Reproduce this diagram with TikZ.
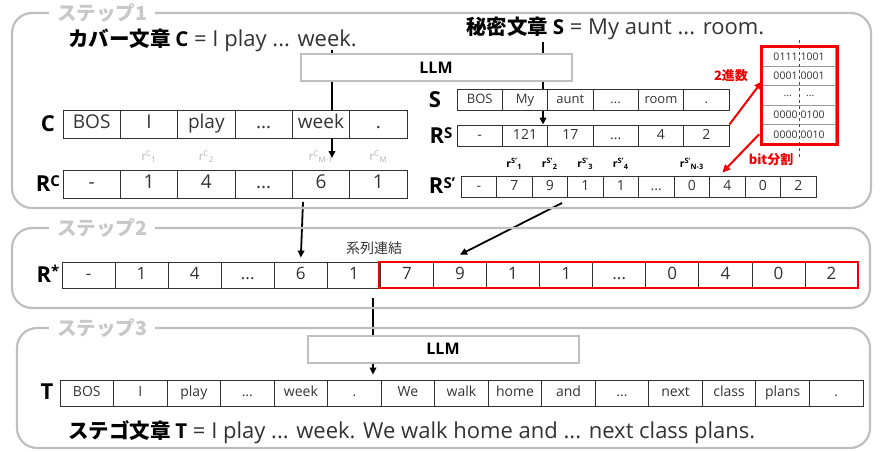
\documentclass[tikz,border=0pt]{standalone}
\usepackage{fontspec}
\setmainfont{Open Sans}
\newfontfamily\jp{Noto Sans CJK JP}
\usetikzlibrary{arrows.meta}
\definecolor{framegray}{RGB}{191,191,191}
\definecolor{lblgray}{RGB}{200,200,200}
\definecolor{redc}{RGB}{245,0,0}
\definecolor{txt}{RGB}{51,51,51}
\definecolor{cellline}{RGB}{50,50,50}
\definecolor{sublbl}{RGB}{175,175,175}
\newcommand\ddd{...}
\newcommand\fs[1]{\fontsize{#1}{#1}\selectfont}
\newcommand\tokrow[7]{%
  \foreach \t [count=\i] in {#7}{%
    \node[cell, minimum width=#4pt, minimum height=#5pt, font=\fs{#6},
      text height={0.72*#6pt}, text depth={0.2*#6pt}] (#1\i) at ({#2+(\i-0.5)*#4},#3) {\t};
  }%
}
\begin{document}
\begin{tikzpicture}[x=1pt,y=-1pt,
  cell/.style={draw=cellline, line width=0.8pt, inner sep=0pt, text=txt},
  frame/.style={draw=framegray, line width=2.2pt, rounded corners=20pt},
  steplbl/.style={fill=white, text=lblgray, font=\fs{19.5}\jp\bfseries, inner xsep=8pt, inner ysep=1pt},
  llmbox/.style={draw=framegray, line width=2pt, minimum width=271pt, minimum height=27pt, font=\fs{16}\bfseries, inner sep=0pt},
  arr/.style={line width=1.8pt, -{Triangle[length=7pt,width=6.5pt]}},
  plain/.style={line width=1.8pt},
  redarr/.style={draw=redc, line width=2pt, -{Triangle[length=8pt,width=7pt]}},
  rowlbl/.style={font=\fs{22}\bfseries, inner sep=0pt},
  redlbl/.style={text=redc, font=\fs{13}\jp\bfseries, inner sep=0pt},
  titletxt/.style={anchor=west, inner sep=0pt},
]
\useasboundingbox (0,0) rectangle (881,452);

% ---------- step 1 ----------
\node[titletxt] (ctext) at (68,40) {\fs{20.5}{\jp\bfseries カバー文章 }{\bfseries C}\fs{22}\color{txt}\ = I play ... week.};
\node[titletxt] (stext) at (466,28) {\fs{20.5}{\jp\bfseries 秘密文章 }{\bfseries S}\fs{22}\color{txt}\ = My aunt ... room.};
\node[llmbox] (llm1) at (436,68) {LLM};

\tokrow{c}{63}{124}{57.33}{28}{19}{BOS,I,play,\ddd,week,.}
\tokrow{rc}{63}{184}{57.33}{28}{19}{-,1,4,\ddd,6,1}
\node[rowlbl] (clbl) at (48,124) {C};
\node[rowlbl] (rclbl) at (48,184) {R\raisebox{5pt}{\fs{15}C}};

\foreach \n/\s in {2/1,3/2,5/{M-1},6/M}{
  \node[text=sublbl, font=\fs{11}, inner sep=0pt] (rcs\n) at ([yshift=13pt]rc\n.north) {r\textsuperscript{C}\textsubscript{\s}};
}

\tokrow{s}{457}{100}{45.33}{21}{13}{BOS,My,aunt,\ddd,room,.}
\tokrow{rs}{457}{135.5}{45.33}{21}{14}{-,121,17,\ddd,4,2}
\node[rowlbl] (slbl) at (435,100) {S};
\node[rowlbl] (rslbl) at (441,136) {R\raisebox{5pt}{\fs{15}S}};

\tokrow{rsp}{461}{186.5}{35.5}{21}{14}{-,7,9,1,1,\ddd,0,4,0,2}
\node[rowlbl] (rsplbl) at (442,186) {R\raisebox{5pt}{\fs{15}S'}};
\foreach \n/\s in {2/1,3/2,4/3,5/4,7/{N-3}}{
  \node[text=black, font=\fs{10.5}\bfseries, inner sep=0pt] (rsps\n) at ([yshift=12pt]rsp\n.north) {r\textsuperscript{S'}\textsubscript{\s}};
}

% binary box
\foreach \b [count=\i] in {0111\hspace{3pt}1001,0001\hspace{3pt}0001,{\ddd\hspace{14pt}\ddd},0000\hspace{3pt}0100,0000\hspace{3pt}0010}{
  \node[draw=gray!80, line width=0.8pt, minimum width=73pt, minimum height=19.4pt, inner sep=0pt, text=txt, font=\fs{10.5}] (bin\i) at (799,{47+(\i-0.5)*19.4}) {\b};
}
\node[draw=redc, line width=3pt, minimum width=76pt, minimum height=97pt, inner sep=0pt] (binbox) at (799,95.5) {};
\coordinate (dtop) at (799,40);
\coordinate (dbot) at (799,158);
\draw[redc, line width=1pt, dashed] (dtop) -- (dbot);

\draw[redarr] (rs6.north east) -- ([yshift=5pt]bin2.south west);
\node[redlbl] (bin2lbl) at (731,76) {2進数};
\draw[redarr] ([xshift=-3pt]bin5.west) -- ([xshift=-5pt,yshift=3pt]rsp8.north);
\node[redlbl] (bitlbl) at (771,160) {bit分割};

% arrows step 1
\coordinate (cweek) at (332,50);
\draw[plain] (cweek) -- (cweek |- llm1.north);
\draw[plain] (cweek |- llm1.south) -- (cweek |- c5.north);
\coordinate (rcarr) at (332,158);
\draw[arr] (cweek |- c5.south) -- (rcarr);

\coordinate (sroom) at (543,42);
\draw[plain] (sroom) -- (sroom |- llm1.north);
\draw[plain] (sroom |- llm1.south) -- (sroom |- s2.north);
\draw[arr] (sroom |- s2.south) -- (sroom |- rs2.north);

% ---------- step 2 ----------
\tokrow{rst}{62}{275}{53.07}{26}{17}{-,1,4,\ddd,6,1,7,9,1,1,\ddd,0,4,0,2}
\node[draw=redc, line width=2.5pt, inner sep=0pt, minimum width=479pt, minimum height=26pt] (redbox) at (618.5,275) {};
\node[rowlbl] (rstlbl) at (48,274) {R\raisebox{6pt}{\fs{15}*}};
\node[text=txt, font=\fs{14}\jp, inner sep=0pt] (concat) at (374,248) {系列連結};

\coordinate (a1s) at (303,202);
\draw[arr] (a1s) -- ([yshift=4pt]rst5.north);
\coordinate (a2s) at (562,203);
\draw[arr] (a2s) -- ([yshift=7pt]rst8.north);

% ---------- step 3 ----------
\node[llmbox] (llm3) at (443,349) {LLM};
\coordinate (a3s) at (373,298);
\draw[plain] (a3s) -- (a3s |- llm3.north);
\tokrow{t}{60}{393}{53.53}{26}{14}{BOS,I,play,\ddd,week,.,We,walk,home,and,\ddd,next,class,plans,.}
\node[rowlbl] (tlbl) at (47,392) {T};
\draw[arr] (a3s |- llm3.south) -- ([yshift=5pt]a3s |- t6.north);
\node[titletxt] (ttext) at (68,432) {\fs{20.5}{\jp\bfseries ステゴ文章 }{\bfseries T}\fs{22}\color{txt}\ = I play ... week. We walk home and ... next class plans.};

% ---------- frames ----------
\draw[frame] (12,13) rectangle (871,208);
\node[steplbl] (st1) at (102,13) {ステップ1};
\draw[frame] (12,228) rectangle (870,308);
\node[steplbl] (st2) at (102,228) {ステップ2};
\draw[frame] (17,328) rectangle (870,448);
\node[steplbl] (st3) at (102,328) {ステップ3};
\end{tikzpicture}
\end{document}
